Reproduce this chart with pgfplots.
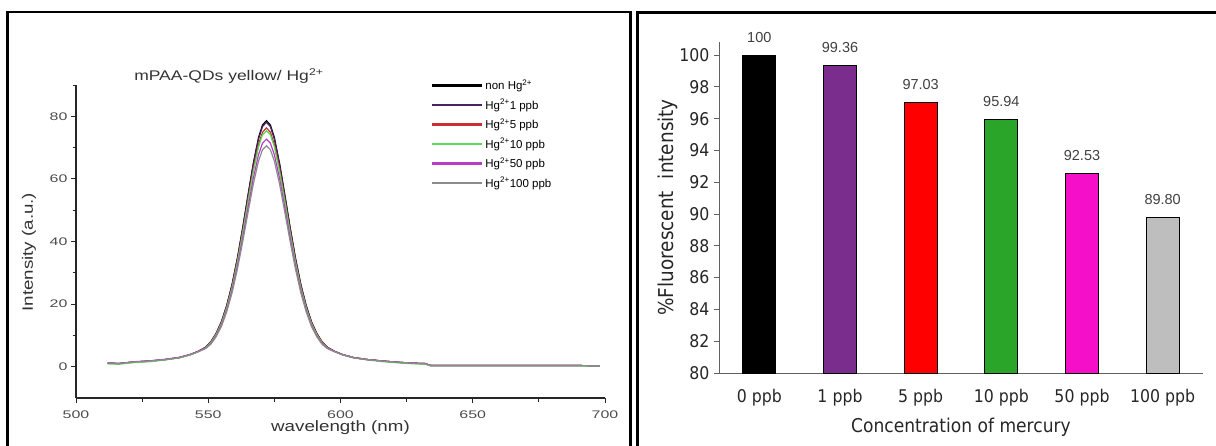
\documentclass[border=0pt]{standalone}
\usepackage{fontspec}
\setmainfont{Liberation Sans}
\newfontfamily\titlefont[FakeStretch=1.25]{Liberation Sans}
\newfontfamily\tickfont[FakeStretch=1.45]{Liberation Sans}
\newfontfamily\barfont[FakeStretch=0.9]{DejaVu Sans}
\usepackage{pgfplots}
\pgfplotsset{compat=1.18}
\usepackage{pgfplotstable}

\definecolor{cOne}{HTML}{4A2262}
\definecolor{cFive}{HTML}{C83030}
\definecolor{cTen}{HTML}{55DD55}
\definecolor{cFifty}{HTML}{B83CC8}
\definecolor{cHund}{HTML}{8C8C8C}
\definecolor{bPurple}{HTML}{7B2D8E}
\definecolor{bRed}{HTML}{FF0000}
\definecolor{bGreen}{HTML}{2AA52A}
\definecolor{bPink}{HTML}{F50FC8}
\definecolor{bGray}{HTML}{BEBEBE}
\definecolor{lblGray}{HTML}{404040}
\definecolor{axGray}{HTML}{606060}

% emission spectra
\pgfplotstableread{
wl    s0    s1    s5    s10   s50   s100
512   1.2   1.2   1.1   0.9   1.3   1.2
516   1.0   1.0   0.9   0.8   1.0   1.0
522   1.5   1.5   1.5   1.3   1.6   1.5
528   1.8   1.8   1.8   1.6   1.9   1.8
534   2.3   2.3   2.3   2.2   2.4   2.3
539   2.9   2.9   2.9   2.8   3.0   2.9
543   3.8   3.8   3.8   3.7   3.9   3.8
546   4.8   4.8   4.8   4.7   4.8   4.7
549   6.2   6.2   6.1   6.0   5.9   5.8
551   8.0   7.9   7.8   7.7   7.4   7.2
553   10.7  10.6  10.4  10.3  9.9   9.6
555   14.4  14.3  14.0  13.8  13.3  12.9
557   19.6  19.5  19.0  18.8  18.1  17.6
559   26.3  26.1  25.5  25.2  24.3  23.6
561   34.6  34.4  33.6  33.2  32.0  31.1
563   44.3  44.0  43.0  42.5  41.0  39.8
565   54.7  54.3  53.1  52.5  50.6  49.1
567   64.8  64.4  62.9  62.2  60.0  58.2
569   73.2  72.7  71.0  70.2  67.7  65.7
570.5 77.2  76.7  74.9  74.1  71.4  69.3
572   78.6  78.1  76.3  75.4  72.7  70.6
573.5 77.2  76.7  74.9  74.1  71.4  69.3
575   73.2  72.7  71.0  70.2  67.7  65.7
577   64.8  64.4  62.9  62.2  60.0  58.2
579   54.7  54.3  53.1  52.5  50.6  49.1
581   44.3  44.0  43.0  42.5  41.0  39.8
583   34.6  34.4  33.6  33.2  32.0  31.1
585   26.3  26.1  25.5  25.2  24.3  23.6
587   19.6  19.5  19.0  18.8  18.1  17.6
589   14.4  14.3  14.0  13.8  13.3  12.9
591   10.7  10.6  10.4  10.3  9.9   9.6
593   8.0   7.9   7.8   7.7   7.4   7.2
595   6.2   6.2   6.1   6.0   5.9   5.8
598   4.8   4.8   4.8   4.7   4.8   4.7
601   3.8   3.8   3.8   3.7   3.8   3.8
605   2.9   2.9   2.9   2.8   2.9   2.9
610   2.3   2.3   2.3   2.2   2.3   2.3
616   1.8   1.8   1.8   1.6   1.8   1.8
622   1.4   1.4   1.4   1.2   1.4   1.4
628   1.1   1.1   1.1   0.9   1.1   1.1
632   1.0   1.0   1.0   0.8   1.0   1.0
634   0.4   0.4   0.4   0.3   0.4   0.4
650   0.4   0.4   0.4   0.3   0.4   0.4
670   0.4   0.4   0.4   0.3   0.4   0.4
685   0.4   0.4   0.4   0.3   0.4   0.4
698   0.3   0.3   0.3   0.2   0.3   0.3
}\spectra

\begin{document}
\begin{tikzpicture}
\useasboundingbox (0pt,0pt) rectangle (1216pt,445pt);
% panel frames
\draw[line width=2.4pt] (7.5pt,-10pt) -- (7.5pt,433pt) -- (630.5pt,433pt) -- (630.5pt,-10pt);
\draw[line width=2.4pt] (637.5pt,-10pt) -- (637.5pt,432.5pt) -- (1230pt,432.5pt);

% left: spectra
\begin{axis}[
  at={(76pt,47pt)}, anchor=south west, scale only axis,
  width=529pt, height=313pt,
  xmin=500, xmax=700, ymin=-10, ymax=90,
  clip mode=individual,
  axis lines*=left,
  axis line style={line width=1.1pt, black!85},
  tick align=outside,
  major tick length=5pt, minor tick length=3.5pt,
  tick style={line width=0.9pt, black!85},
  xtick={500,550,...,700}, minor xtick={525,575,625,675},
  ytick={0,20,...,80}, minor ytick={10,30,50,70,90},
  /pgf/number format/assume math mode=true,
  tick label style={font=\tickfont\fontsize{11}{12}\selectfont, text=black!70},
  xticklabel style={yshift=-4pt},
  xlabel={wavelength (nm)},
  ylabel={Intensity (a.u.)},
  label style={font=\titlefont\fontsize{15}{17}\selectfont, text=black!80},
  xlabel style={at={(axis description cs:0.5,-0.096)}, anchor=center},
  ylabel style={at={(axis description cs:-0.089,0.466)}, anchor=center},
  legend style={draw=none, fill=none, at={(0.665,1.03)}, anchor=north west,
    font=\fontsize{11.5}{12}\selectfont, row sep=4pt, cells={anchor=west}},
  legend image code/.code={\draw[#1, line width=2.4pt] (0pt,0pt) -- (50pt,0pt);},
]
\addplot[black, line width=1.2pt] table[x=wl, y=s0] {\spectra};
\addlegendentry{non Hg\textsuperscript{2+}}
\addplot[cOne, line width=1.2pt] table[x=wl, y=s1] {\spectra};
\addlegendentry{Hg\textsuperscript{2+}1 ppb}
\addplot[cFive, line width=1.2pt] table[x=wl, y=s5] {\spectra};
\addlegendentry{Hg\textsuperscript{2+}5 ppb}
\addplot[cTen, line width=1.2pt] table[x=wl, y=s10] {\spectra};
\addlegendentry{Hg\textsuperscript{2+}10 ppb}
\addplot[cFifty, line width=1.2pt] table[x=wl, y=s50] {\spectra};
\addlegendentry{Hg\textsuperscript{2+}50 ppb}
\addplot[cHund, line width=1.2pt] table[x=wl, y=s100] {\spectra};
\addlegendentry{Hg\textsuperscript{2+}100 ppb}
\node[font=\titlefont\fontsize{14}{16}\selectfont, text=black!80]
  at (axis description cs:0.289,1.029) {mPAA-QDs yellow/ Hg\textsuperscript{2+}};
\end{axis}

% right: relative fluorescence
\begin{axis}[
  at={(719pt,72pt)}, anchor=south west, scale only axis,
  width=484pt, height=331.3pt,
  xmin=-0.5, xmax=5.5, ymin=80, ymax=100.84,
  ybar, bar width=33pt, bar shift=0pt,
  axis lines*=left,
  axis line style={line width=0.9pt, axGray},
  tick align=outside, major tick length=5pt,
  tick style={line width=0.8pt, axGray},
  xtick={0,...,5},
  xticklabels={0 ppb,1 ppb,5 ppb,10 ppb,50 ppb,100 ppb},
  x tick style={draw=none},
  ytick={80,82,...,100},
  /pgf/number format/assume math mode=true,
  tick label style={font=\barfont\fontsize{17.5}{19}\selectfont, text=black!85},
  xticklabel style={yshift=-8pt},
  yticklabel style={xshift=-1pt},
  xlabel={Concentration of mercury},
  ylabel={\%Fluorescent~~intensity},
  xlabel style={font=\barfont\fontsize{19}{21}\selectfont, text=black!85,
    at={(axis description cs:0.5,-0.165)}, anchor=center},
  ylabel style={font=\barfont\fontsize{20.5}{22}\selectfont, text=black!85,
    at={(axis description cs:-0.105,0.5)}, anchor=center},
  every node near coord/.append style={font=\fontsize{14.5}{16}\selectfont,
    text=lblGray, anchor=south, yshift=9pt},
  clip=false,
]
\addplot[fill=black, draw=black, line width=0.8pt, nodes near coords={100}] coordinates {(0,100)};
\addplot[fill=bPurple, draw=black, line width=0.8pt, nodes near coords={99.36}] coordinates {(1,99.36)};
\addplot[fill=bRed, draw=black, line width=0.8pt, nodes near coords={97.03}] coordinates {(2,97.03)};
\addplot[fill=bGreen, draw=black, line width=0.8pt, nodes near coords={95.94}] coordinates {(3,95.94)};
\addplot[fill=bPink, draw=black, line width=0.8pt, nodes near coords={92.53}] coordinates {(4,92.53)};
\addplot[fill=bGray, draw=black, line width=0.8pt, nodes near coords={89.80}] coordinates {(5,89.80)};
\end{axis}
\end{tikzpicture}
\end{document}
